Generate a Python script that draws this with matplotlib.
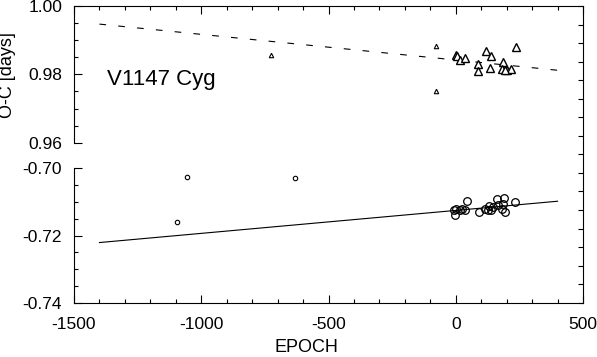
import matplotlib
matplotlib.use('Agg')
import matplotlib.pyplot as plt
from matplotlib.ticker import MultipleLocator, FormatStrFormatter

plt.rcParams['font.family'] = ['Liberation Sans', 'DejaVu Sans']
plt.rcParams['axes.unicode_minus'] = False

# ── Data ─────────────────────────────────────────────────────
# upper panel (triangles), O-C in days
tri_big_epoch = [0, 5, 16, 37, 87, 87, 118, 137, 134, 187, 181, 200, 216, 237, 195]
tri_big_oc = [0.9858, 0.9854, 0.9843, 0.9849, 0.9829, 0.9810, 0.9868, 0.9854,
              0.9819, 0.9835, 0.9815, 0.9812, 0.9817, 0.9880, 0.9813]
tri_small_epoch = [-725, -76, -79]
tri_small_oc = [0.9856, 0.9882, 0.9751]

# lower panel (circles)
circ_big_epoch = [-7, -4, 0, 16, 26, 38, 45, 92, 114, 128, 137, 147, 161, 167,
                  180, 187, 189, 193, 233, 131]
circ_big_oc = [-0.7125, -0.7140, -0.7120, -0.7125, -0.7120, -0.7125, -0.7097,
               -0.7130, -0.7120, -0.7123, -0.7125, -0.7115, -0.7090, -0.7110,
               -0.7120, -0.7105, -0.7087, -0.7130, -0.7100, -0.7113]
circ_small_epoch = [-1096, -1056, -633]
circ_small_oc = [-0.7159, -0.7025, -0.7029]

# linear fits
fit_epoch = [-1400, 400]
fit_upper = [0.9947, 0.9812]
fit_lower = [-0.7221, -0.7098]

# ── Layout (pixel based) ─────────────────────────────────────
W, H = 597, 357
x0, x1 = 74, 583
top_y0, top_y1 = 6, 142.7
bot_y0, bot_y1 = 168.3, 302.7

fig = plt.figure(figsize=(W / 100, H / 100), dpi=100)

def fig_rect(ya, yb):
    return [x0 / W, 1 - yb / H, (x1 - x0) / W, (yb - ya) / H]

# frame axes: only carries the right spine with its ticks
ax_frame = fig.add_axes(fig_rect(top_y0, bot_y1))
ax_frame.set_facecolor('none')
for s in ['left', 'top', 'bottom']:
    ax_frame.spines[s].set_visible(False)
ax_frame.spines['right'].set_linewidth(0.8)
ax_frame.set_ylim(0, 16)
ax_frame.set_yticks(range(17))
ax_frame.yaxis.tick_right()
ax_frame.tick_params(axis='y', direction='in', length=3.6, width=0.8,
                     labelright=False)
ax_frame.set_xticks([])

ax_top = fig.add_axes(fig_rect(top_y0, top_y1))
ax_bot = fig.add_axes(fig_rect(bot_y0, bot_y1))

for ax in (ax_top, ax_bot):
    ax.set_facecolor('none')
    ax.set_xlim(-1500, 500)
    ax.spines['right'].set_visible(False)
    for s in ax.spines.values():
        s.set_linewidth(0.8)
    ax.xaxis.set_major_locator(MultipleLocator(500))
    ax.xaxis.set_minor_locator(MultipleLocator(100))
    ax.yaxis.set_minor_locator(MultipleLocator(0.005))
    ax.yaxis.set_major_locator(MultipleLocator(0.02))
    ax.yaxis.set_major_formatter(FormatStrFormatter('%.2f'))
    ax.tick_params(which='both', direction='in', width=0.8, labelsize=12.5)
    ax.tick_params(which='major', length=6)
    ax.tick_params(which='minor', length=3.2)
    ax.tick_params(axis='y', which='both', right=False, pad=8.5)

# upper panel
ax_top.set_ylim(0.96, 1.00)
ax_top.spines['bottom'].set_visible(False)
ax_top.tick_params(axis='x', which='both', bottom=False, labelbottom=False,
                   top=True, labeltop=False)
ax_top.plot(fit_epoch, fit_upper, color='black', lw=0.8, dashes=(6, 11))
ax_top.plot(tri_small_epoch, tri_small_oc, '^', ms=3.2, mfc='white',
            mec='black', mew=0.8, clip_on=False)
ax_top.plot(tri_big_epoch, tri_big_oc, '^', ms=5.5, mfc='white',
            mec='black', mew=1.0, clip_on=False)
ax_top.text(0.065, 0.46, 'V1147 Cyg', transform=ax_top.transAxes,
            fontsize=16, ha='left', va='center')

# lower panel
ax_bot.set_ylim(-0.74, -0.70)
ax_bot.spines['top'].set_visible(False)
ax_bot.tick_params(axis='x', which='both', top=False, pad=10)
ax_bot.plot(fit_epoch, fit_lower, color='black', lw=0.8)
ax_bot.plot(circ_small_epoch, circ_small_oc, 'o', ms=3.2, mfc='white',
            mec='black', mew=0.8)
ax_bot.plot(circ_big_epoch, circ_big_oc, 'o', ms=5.5, mfc='none',
            mec='black', mew=0.9)

fig.text(8 / W, 1 - 75 / H, 'O-C [days]', rotation=90, fontsize=13,
         ha='center', va='center')
fig.text(306 / W, 1 - 348 / H, 'EPOCH', fontsize=13, ha='center', va='center')

fig.savefig('out.png', dpi=100)
